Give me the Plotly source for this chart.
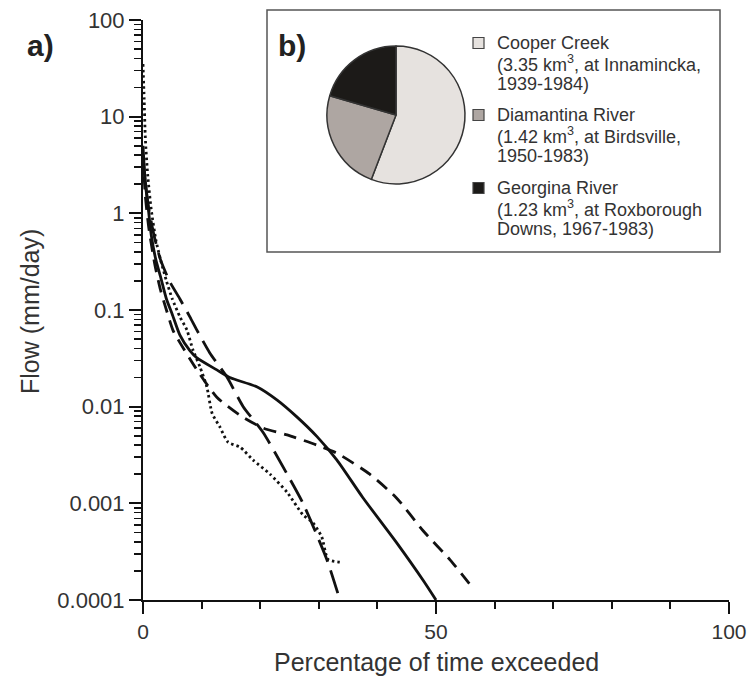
import plotly.graph_objects as go

# ---------------- data ----------------
# Flow duration curves (x = % of time exceeded, y = flow mm/day)
solid_x = [0, 0.3, 0.8, 1.4, 2.2, 3, 4, 5, 6.3, 8, 9.2, 12.6, 14.8, 19.5, 22.9, 26.3, 29.7, 33.1, 37.5, 43.3, 47.8, 50]
solid_y = [5, 2.5, 1.3, 0.6, 0.33, 0.22, 0.13, 0.09, 0.055, 0.038, 0.032, 0.024, 0.020, 0.016, 0.0117, 0.0078, 0.0049, 0.0028, 0.00115, 0.00039, 0.00016, 0.0001]

dash_x = [0, 0.4, 1, 2, 3, 4, 5.1, 6.3, 9.2, 12.6, 16.6, 20.5, 24.6, 29.7, 33.1, 38.7, 43.3, 47.8, 52.4, 56.3]
dash_y = [4, 1.5, 0.7, 0.3, 0.16, 0.1, 0.062, 0.046, 0.024, 0.0125, 0.0081, 0.006, 0.0051, 0.004, 0.0033, 0.002, 0.00113, 0.00052, 0.00026, 0.000133]

longdash_x = [0, 0.4, 1, 2, 3, 4.5, 6.3, 8, 9.2, 11.4, 14.3, 17.1, 20.5, 24.6, 27.3, 31.4, 33.6]
longdash_y = [4, 2, 1.1, 0.55, 0.33, 0.2, 0.13, 0.085, 0.062, 0.036, 0.0204, 0.01, 0.0054, 0.002, 0.001, 0.00026, 0.0001]

dot_x = [0, 0.2, 0.4, 0.8, 1.4, 2.2, 3, 4, 5, 6.3, 7.5, 8.5, 9.7, 10.9, 11.8, 13.1, 14.5, 16.6, 18.8, 21.7, 24.6, 27.3, 29.0, 30.5, 31.6, 34]
dot_y = [35, 15, 6, 2.5, 1.1, 0.53, 0.33, 0.2, 0.13, 0.085, 0.062, 0.039, 0.026, 0.016, 0.0085, 0.0062, 0.0043, 0.0038, 0.0028, 0.002, 0.0013, 0.00076, 0.00063, 0.00045, 0.000263, 0.000245]

# Pie: mean annual flow volumes (km^3)
rivers = ["Cooper Creek", "Diamantina River", "Georgina River"]
volumes = [3.35, 1.42, 1.23]
pie_colors = ["#e6e2df", "#aea6a2", "#1c1a18"]
legend_lines = [
    ["Cooper Creek", "(3.35 km<sup>3</sup>, at Innamincka,", "1939-1984)"],
    ["Diamantina River", "(1.42 km<sup>3</sup>, at Birdsville,", "1950-1983)"],
    ["Georgina River", "(1.23 km<sup>3</sup>, at Roxborough", "Downs, 1967-1983)"],
]

y_tickvals = [0.0001, 0.001, 0.01, 0.1, 1, 10, 100]
y_ticktext = ["0.0001", "0.001", "0.01", "0.1", "1", "10", "100"]
x_tickvals = [0, 50, 100]
x_ticktext = ["0", "50", "100"]

# ---------------- layout helpers ----------------
W, H = 748, 677
L, R, T, B = 143, 19, 20, 77
PW, PH = W - L - R, H - T - B


def px(x):                   # screen x -> paper x
    return (x - L) / PW


def py(y):                   # screen y -> paper y
    return (H - B - y) / PH


FONT = "Arial, 'Liberation Sans', sans-serif"

fig = go.Figure()

styles = [
    (solid_x, solid_y, "solid"),
    (dash_x, dash_y, "13px,8px"),
    (longdash_x, longdash_y, "24px,9px"),
    (dot_x, dot_y, "2.5px,3px"),
]
for xs, ys, dash in styles:
    fig.add_trace(go.Scatter(
        x=xs, y=ys, mode="lines",
        line=dict(color="#111111", width=2.8, dash=dash, shape="spline", smoothing=0.6),
        showlegend=False, hoverinfo="skip",
    ))

fig.add_trace(go.Pie(
    labels=rivers, values=volumes, sort=False, direction="clockwise", rotation=0,
    marker=dict(colors=pie_colors, line=dict(color="#333333", width=1.5)),
    textinfo="none", showlegend=False, hoverinfo="skip",
    domain=dict(x=[px(327), px(465)], y=[py(184), py(46)]),
))

shapes = [dict(type="rect", xref="paper", yref="paper",
               x0=px(267), x1=px(720), y0=py(252), y1=py(10),
               line=dict(color="#555555", width=1.5), fillcolor="white", layer="below")]

annotations = []
block_tops = [43, 115, 188]
for i, lines in enumerate(legend_lines):
    yc = block_tops[i]
    shapes.append(dict(type="rect", xref="paper", yref="paper",
                       x0=px(473), x1=px(484), y0=py(yc + 5.5), y1=py(yc - 5.5),
                       line=dict(color="#444444", width=1.2), fillcolor=pie_colors[i]))
    for j, txt in enumerate(lines):
        annotations.append(dict(xref="paper", yref="paper", x=px(495), y=py(yc + 20.5 * j),
                                xanchor="left", yanchor="middle", text=txt, showarrow=False,
                                font=dict(family=FONT, size=18, color="#333333")))

annotations += [
    dict(xref="paper", yref="paper", x=px(40), y=py(46), text="<b>a)</b>", showarrow=False,
         xanchor="center", yanchor="middle", font=dict(family=FONT, size=30, color="#222222")),
    dict(xref="paper", yref="paper", x=px(292), y=py(45), text="<b>b)</b>", showarrow=False,
         xanchor="center", yanchor="middle", font=dict(family=FONT, size=30, color="#222222")),
    dict(xref="paper", yref="paper", x=px(436), y=py(662), text="Percentage of time exceeded",
         showarrow=False, xanchor="center", yanchor="middle",
         font=dict(family=FONT, size=25, color="#333333")),
    dict(xref="paper", yref="paper", x=px(30), y=py(312), text="Flow (mm/day)", textangle=-90,
         showarrow=False, xanchor="center", yanchor="middle",
         font=dict(family=FONT, size=25, color="#333333")),
]

y_minor = [m * 10 ** e for e in range(-4, 2) for m in range(2, 10)]
x_minor = [v for v in range(10, 100, 10) if v != 50]

fig.update_layout(
    width=W, height=H,
    margin=dict(l=L, r=R, t=T, b=B, autoexpand=False),
    paper_bgcolor="white", plot_bgcolor="white",
    shapes=shapes, annotations=annotations,
    xaxis=dict(range=[0, 100], showgrid=False, zeroline=False,
               showline=True, linecolor="#111111", linewidth=2,
               tickmode="array", tickvals=x_tickvals, ticktext=x_ticktext,
               ticks="outside", ticklen=12, tickwidth=2, tickcolor="#111111",
               ticklabeloverflow="allow",
               tickfont=dict(family=FONT, size=21, color="#333333"),
               minor=dict(tickmode="array", tickvals=x_minor, ticks="outside",
                          ticklen=7, tickwidth=2, tickcolor="#111111", showgrid=False),
               fixedrange=True),
    yaxis=dict(type="log", range=[-4, 2], showgrid=False, zeroline=False,
               showline=True, linecolor="#111111", linewidth=2,
               tickmode="array", tickvals=y_tickvals, ticktext=y_ticktext,
               ticks="outside", ticklen=12, tickwidth=2, tickcolor="#111111",
               ticklabeloverflow="allow",
               tickfont=dict(family=FONT, size=22, color="#333333"),
               minor=dict(tickmode="array", tickvals=y_minor, ticks="outside",
                          ticklen=7, tickwidth=1.5, tickcolor="#111111", showgrid=False),
               fixedrange=True),
)

fig.write_html(
    "out.html",
    config={"displayModeBar": False, "staticPlot": True},
    post_script="document.body.style.margin='0';document.body.style.overflow='hidden';",
)
